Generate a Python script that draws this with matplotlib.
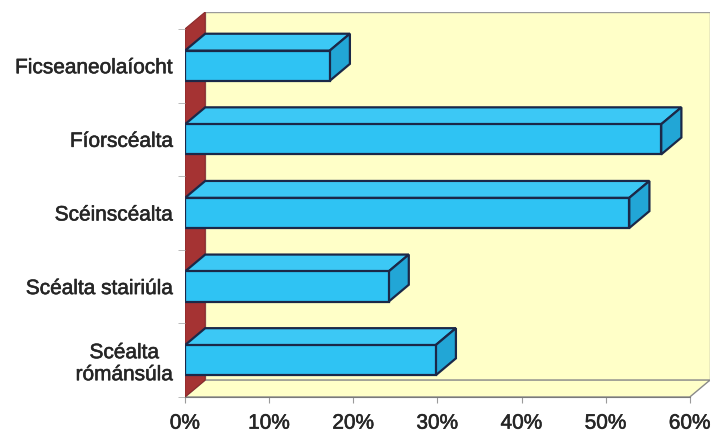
import matplotlib
matplotlib.use("Agg")
import matplotlib.pyplot as plt
import matplotlib.patheffects as pe
from matplotlib.patches import Polygon

# Genres (bottom to top) and share of respondents, in percent
categories = ["Scéalta\nrómánsúla", "Scéalta stairiúla", "Scéinscéalta", "Fíorscéalta", "Ficseaneolaíocht"]
values = [29.8, 24.2, 52.8, 56.6, 17.2]
xticks = [0, 10, 20, 30, 40, 50, 60]
xticklabels = ["0%", "10%", "20%", "30%", "40%", "50%", "60%"]

plt.rcParams["font.family"] = ["Liberation Sans", "DejaVu Sans"]

XMAX = 60
DX, DY = 2.4, 0.23         # perspective depth offset (x in %, y in category units)
BAR_H = 0.41

wall_col = "#ffffc8"
side_wall_col = "#a53333"
front_col = "#2fc3f3"
top_col = "#3cc8f5"
side_col = "#22a6d6"
edge_col = "#1b2848"
text_col = "#262626"

fig = plt.figure(figsize=(7.14, 4.33), dpi=100)
ax = fig.add_axes([185 / 714, 36 / 433, (710 - 185) / 714, (421 - 36) / 433])
n = len(categories)
y0, y1 = -0.5, n - 0.5
ax.set_xlim(0, XMAX + DX)
ax.set_ylim(y0, y1 + DY)

# back wall, floor and left side wall
ax.add_patch(Polygon([(DX, y0 + DY), (XMAX + DX, y0 + DY), (XMAX + DX, y1 + DY), (DX, y1 + DY)],
                     closed=True, facecolor=wall_col, edgecolor="#9a9a9a", lw=1.0, zorder=1))
ax.add_patch(Polygon([(0, y0), (XMAX, y0), (XMAX + DX, y0 + DY), (DX, y0 + DY)],
                     closed=True, facecolor=wall_col, edgecolor="#8a8a8a", lw=1.0, zorder=1))
ax.add_patch(Polygon([(0, y0), (DX, y0 + DY), (DX, y1 + DY), (0, y1)],
                     closed=True, facecolor=side_wall_col, edgecolor="#8a2a2a", lw=0.8, zorder=1))

# 3-D bars: front face via barh, top and side faces as polygons
ys = list(range(n))
ax.barh(ys, values, height=BAR_H, left=0, color=front_col, edgecolor=edge_col, lw=1.6, zorder=4)
for y, v in zip(ys, values):
    top = y + BAR_H / 2
    bot = y - BAR_H / 2
    ax.add_patch(Polygon([(0, top), (v, top), (v + DX, top + DY), (DX, top + DY)],
                         closed=True, facecolor=top_col, edgecolor=edge_col, lw=1.6, zorder=3))
    ax.add_patch(Polygon([(v, bot), (v + DX, bot + DY), (v + DX, top + DY), (v, top)],
                         closed=True, facecolor=side_col, edgecolor=edge_col, lw=1.6, zorder=3))

for s in ["top", "right", "left"]:
    ax.spines[s].set_visible(False)
ax.spines["bottom"].set_bounds(0, XMAX)
ax.spines["bottom"].set_color("#7a7a7a")

# slightly heavier lettering
heavy = [pe.withStroke(linewidth=0.4, foreground=text_col)]

ax.set_xticks(xticks)
ax.set_xticklabels(xticklabels, fontsize=15, color=text_col)
ax.tick_params(axis="x", length=4, color="#9a9a9a", pad=8)

ax.set_yticks(ys)
ax.set_yticklabels(categories, fontsize=15, color=text_col, multialignment="center")
ax.tick_params(axis="y", length=0, pad=8.5)
ax.set_yticks([y0 + k for k in range(n + 1)], minor=True)
ax.tick_params(axis="y", which="minor", length=5, color="#b0b0b0")

for lbl in ax.get_xticklabels() + ax.get_yticklabels():
    lbl.set_path_effects(heavy)

fig.savefig("out.png", dpi=100, facecolor="white")
